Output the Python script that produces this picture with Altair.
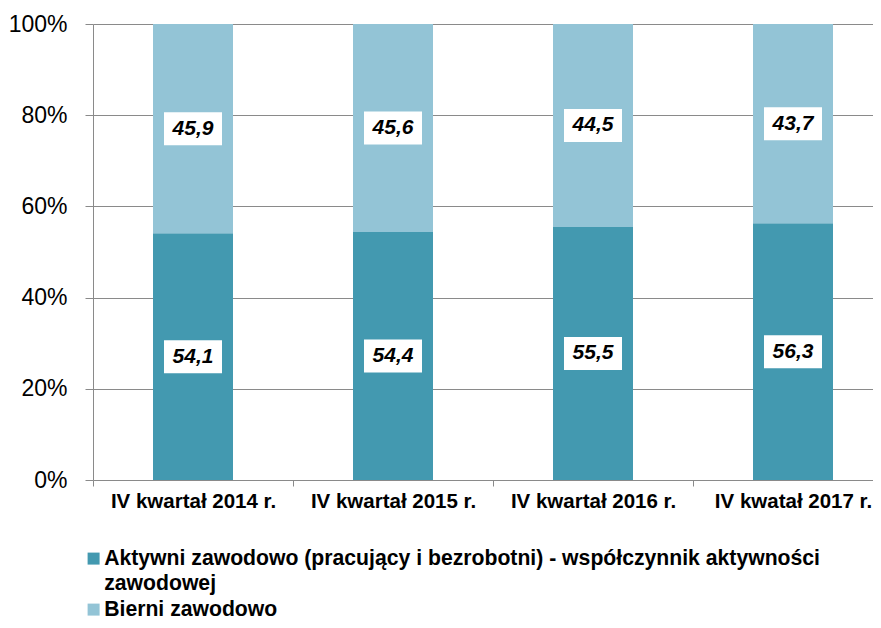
import altair as alt
import pandas as pd

categories = ["IV kwartał 2014 r.", "IV kwartał 2015 r.", "IV kwartał 2016 r.", "IV kwatał 2017 r."]
series = [
    "Aktywni zawodowo (pracujący i bezrobotni) - współczynnik aktywności zawodowej",
    "Bierni zawodowo",
]
aktywni = [54.1, 54.4, 55.5, 56.3]
bierni = [45.9, 45.6, 44.5, 43.7]
colors = ["#4399B0", "#93C4D6"]
y_ticks = [0, 20, 40, 60, 80, 100]

rows = []
for i, c in enumerate(categories):
    rows.append({"cat": c, "series": series[0], "order": 0, "value": aktywni[i]})
    rows.append({"cat": c, "series": series[1], "order": 1, "value": bierni[i]})
df = pd.DataFrame(rows)

line1, line2 = series[0].rsplit(" ", 1)
label_expr = f"datum.label === '{series[0]}' ? ['{line1}', '{line2}'] : datum.label"

FONT = "Liberation Sans"
GREY = "#8a8a8a"

base = (
    alt.Chart(df)
    .transform_stack(
        stack="value", groupby=["cat"], as_=["y0", "y1"],
        sort=[alt.SortField("order", order="ascending")],
    )
    .transform_calculate(
        mid="(datum.y0 + datum.y1) / 2",
        label="replace(format(datum.value, '.1f'), '.', ',')",
    )
)

x = alt.X(
    "cat:N",
    sort=categories,
    scale=alt.Scale(paddingInner=0.6, paddingOuter=0.25, align=0.6),
    axis=alt.Axis(
        title=None, labelAngle=0, labelFont=FONT, labelFontWeight="bold",
        labelFontSize=20.5, labelColor="#000", tickOffset=-100, labelOffset=100,
        tickSize=6, tickColor=GREY, domain=False, grid=False, labelPadding=5,
    ),
)

bars = base.mark_bar(strokeWidth=0).encode(
    x=x,
    y=alt.Y(
        "y1:Q",
        scale=alt.Scale(domain=[0, 100]),
        axis=alt.Axis(
            title=None, values=y_ticks, labelExpr="datum.value + '%'",
            labelFont=FONT, labelFontSize=23, labelColor="#000",
            grid=True, gridColor=GREY, tickColor=GREY, tickSize=8,
            domainColor=GREY, labelPadding=18,
        ),
    ),
    y2="y0:Q",
    color=alt.Color(
        "series:N",
        scale=alt.Scale(domain=series, range=colors),
        legend=alt.Legend(
            title=None, orient="none", legendX=-10, legendY=524,
            direction="vertical", symbolType="square", symbolSize=144,
            symbolStrokeWidth=0, labelFontSize=21.2, labelFontWeight="bold",
            labelFont=FONT, labelColor="#000", labelExpr=label_expr,
            labelLimit=0, padding=0, labelOffset=0, rowPadding=4,
        ),
    ),
)

box_path = "M-1.758,-1 L1.758,-1 L1.758,1 L-1.758,1 Z"
boxes = base.mark_point(
    shape=box_path, size=1089, filled=True, color="white", opacity=1, strokeWidth=0
).encode(x=x, y="mid:Q")

texts = base.mark_text(
    font=FONT, fontSize=21, fontWeight="bold", fontStyle="italic",
    color="black", baseline="middle",
).encode(x=x, y="mid:Q", text="label:N")

chart = (
    alt.layer(bars, boxes, texts)
    .properties(
        width=780, height=456,
        autosize=alt.AutoSizeParams(type="none"),
        padding={"left": 85, "top": 16, "right": 0, "bottom": 140},
    )
    .configure(
        style={"guide-label": {"lineHeight": 25}},
        view=alt.ViewConfig(stroke=None),
    )
)

chart.save("out.html", embed_options={"renderer": "svg", "actions": False})
